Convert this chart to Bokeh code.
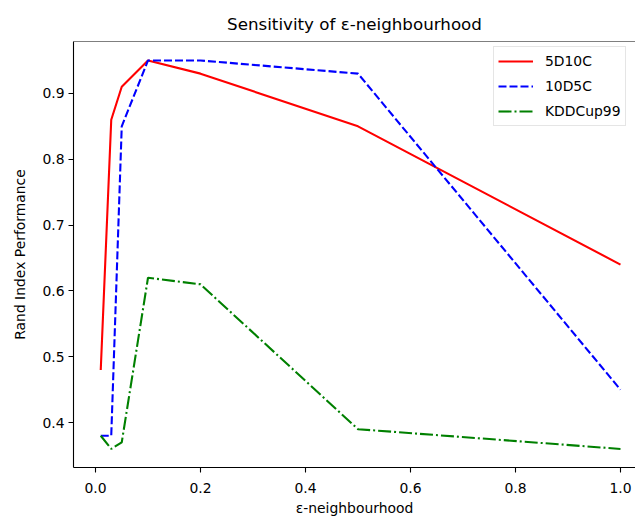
from bokeh.plotting import figure
from bokeh.models import FixedTicker, PrintfTickFormatter, Range1d, Span, Legend, LegendItem
from bokeh.embed import file_html
from bokeh.resources import INLINE

# Data
eps = [0.01, 0.03, 0.05, 0.1, 0.2, 0.5, 1.0]
s_5d10c = [0.48, 0.86, 0.91, 0.95, 0.93, 0.85, 0.64]
s_10d5c = [0.38, 0.38, 0.85, 0.95, 0.95, 0.93, 0.45]
s_kdd = [0.38, 0.36, 0.37, 0.62, 0.61, 0.39, 0.36]
x_ticks = [0.0, 0.2, 0.4, 0.6, 0.8, 1.0]
y_ticks = [0.4, 0.5, 0.6, 0.7, 0.8, 0.9]

FONT = "DejaVu Sans"

p = figure(width=635, height=518, output_backend="svg", toolbar_location=None,
           x_range=Range1d(-0.0419, 1.0286), y_range=Range1d(0.3318, 0.9788),
           title="Sensitivity of ε-neighbourhood",
           min_border_left=73, min_border_right=0, min_border_top=41, min_border_bottom=50)

p.outline_line_color = None
p.grid.visible = False

p.title.text_font = FONT
p.title.text_font_size = "16.7px"
p.title.text_font_style = "normal"
p.title.align = "center"
p.title.offset = 3
p.title.standoff = 15
p.title.text_color = "black"

for ax in (p.xaxis[0], p.yaxis[0]):
    ax.axis_line_color = "black"
    ax.axis_line_width = 1.1
    ax.major_tick_line_color = "black"
    ax.major_tick_line_width = 1.1
    ax.major_tick_out = 5
    ax.major_tick_in = 0
    ax.minor_tick_line_color = None
    ax.major_label_text_font = FONT
    ax.major_label_text_font_size = "13.9px"
    ax.major_label_text_color = "black"
    ax.axis_label_text_font = FONT
    ax.axis_label_text_font_size = "13.9px"
    ax.axis_label_text_font_style = "normal"
    ax.axis_label_text_color = "black"
    ax.formatter = PrintfTickFormatter(format="%.1f")

p.xaxis[0].ticker = FixedTicker(ticks=x_ticks)
p.yaxis[0].ticker = FixedTicker(ticks=y_ticks)
p.xaxis[0].axis_label = "ε-neighbourhood"
p.yaxis[0].axis_label = "Rand Index Performance"
p.xaxis[0].major_label_standoff = 10
p.yaxis[0].major_label_standoff = 4
p.xaxis[0].axis_label_standoff = 4
p.yaxis[0].axis_label_standoff = 11

top = Span(location=0.9788, dimension="width", line_color="black", line_width=1.1)
p.add_layout(top)

r1 = p.line(eps, s_5d10c, line_color="#ff0000", line_width=2.1)
r2 = p.line(eps, s_10d5c, line_color="#0000ff", line_width=2.1, line_dash="8 3")
r3 = p.line(eps, s_kdd, line_color="#008000", line_width=2.1, line_dash="13 3 2 3")

legend = Legend(items=[LegendItem(label="5D10C", renderers=[r1]),
                       LegendItem(label="10D5C", renderers=[r2]),
                       LegendItem(label="KDDCup99", renderers=[r3])],
                location=(420, 341))
legend.label_text_font = FONT
legend.label_text_font_size = "13.9px"
legend.label_text_color = "black"
legend.glyph_width = 35
legend.glyph_height = 20
legend.label_height = 20
legend.spacing = 5
legend.padding = 4
legend.label_standoff = 12
legend.margin = 0
legend.border_line_color = "#cccccc"
legend.border_line_width = 1
legend.background_fill_alpha = 0.8
p.add_layout(legend)

open("out.html", "w").write(file_html(p, INLINE))
